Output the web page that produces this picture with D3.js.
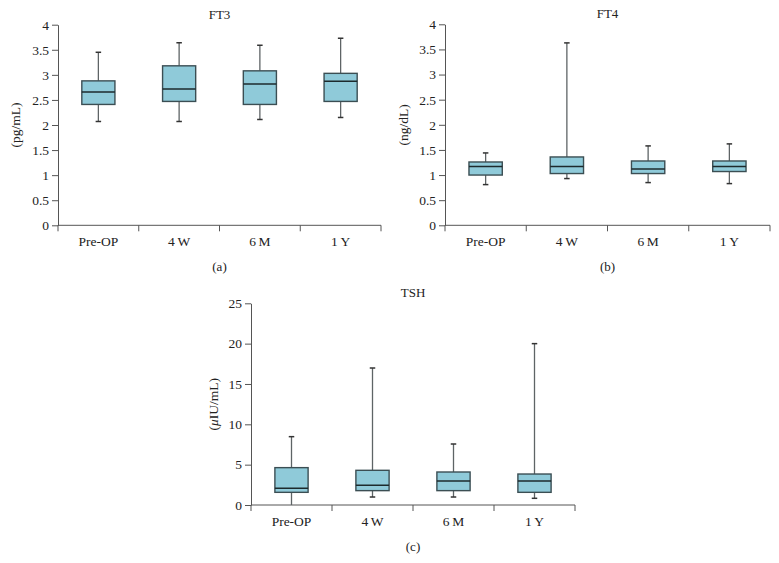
<!DOCTYPE html>
<html>
<head>
<meta charset="utf-8">
<script src="https://cdn.jsdelivr.net/npm/d3@7"></script>
<style>
  html, body { margin: 0; padding: 0; background: #fff; }
  svg { display: block; }
  text { font-family: "Liberation Serif", "DejaVu Serif", serif; fill: #222; }
</style>
</head>
<body>
<svg id="chart" width="779" height="563"></svg>
<script>
// ---- Data ----
const categories = ["Pre-OP", "4\u2009W", "6\u2009M", "1\u2009Y"];

const ft3Min    = [2.07, 2.07, 2.11, 2.15];
const ft3Q1     = [2.41, 2.47, 2.41, 2.47];
const ft3Median = [2.66, 2.72, 2.82, 2.87];
const ft3Q3     = [2.88, 3.18, 3.08, 3.03];
const ft3Max    = [3.45, 3.64, 3.59, 3.73];

const ft4Min    = [0.81, 0.93, 0.85, 0.83];
const ft4Q1     = [1.00, 1.03, 1.03, 1.07];
const ft4Median = [1.17, 1.17, 1.12, 1.17];
const ft4Q3     = [1.26, 1.36, 1.28, 1.28];
const ft4Max    = [1.44, 3.63, 1.58, 1.62];

const tshMin    = [0.0, 0.99, 0.99, 0.83];
const tshQ1     = [1.57, 1.78, 1.78, 1.57];
const tshMedian = [2.07, 2.44, 2.98, 2.98];
const tshQ3     = [4.63, 4.30, 4.09, 3.84];
const tshMax    = [8.47, 16.98, 7.56, 20.0];

const ft3Ticks = [0, 0.5, 1, 1.5, 2, 2.5, 3, 3.5, 4];
const ft4Ticks = [0, 0.5, 1, 1.5, 2, 2.5, 3, 3.5, 4];
const tshTicks = [0, 5, 10, 15, 20, 25];

// ---- Drawing ----
const svg = d3.select("#chart");
const BOX_FILL = "#8fcad9";
const BOX_STROKE = "#3b4e53";
const WHISKER = "#5e6466";
const AXIS = "#555";

function panel(cfg) {
  const x = d3.scaleBand().domain(categories).range([cfg.x0, cfg.x1]);
  const y = d3.scaleLinear().domain([0, cfg.yMax]).range([cfg.yBottom, cfg.yTop]);
  const g = svg.append("g");

  // y axis
  const ya = g.append("g")
    .attr("transform", `translate(${cfg.x0},0)`)
    .call(d3.axisLeft(y).tickValues(cfg.ticks).tickSize(6).tickSizeOuter(0).tickPadding(3)
      .tickFormat(d => String(d)));
  ya.select(".domain").attr("stroke", AXIS);
  ya.selectAll(".tick line").attr("stroke", AXIS);
  ya.selectAll(".tick text").attr("font-size", 13.5).attr("font-family", "Liberation Serif").attr("fill", "#222");

  // x axis: line + ticks at band boundaries
  const bounds = categories.map(c => x(c)).concat([x(categories[categories.length - 1]) + x.bandwidth()]);
  g.append("line").attr("x1", cfg.x0).attr("x2", cfg.x1)
    .attr("y1", cfg.yBottom).attr("y2", cfg.yBottom).attr("stroke", AXIS);
  g.selectAll("line.xt").data(bounds).join("line").attr("class", "xt")
    .attr("x1", d => d).attr("x2", d => d)
    .attr("y1", cfg.yBottom).attr("y2", cfg.yBottom + 6).attr("stroke", AXIS);
  g.selectAll("text.xl").data(categories).join("text").attr("class", "xl")
    .attr("x", d => x(d) + x.bandwidth() / 2)
    .attr("y", cfg.yBottom + 21)
    .attr("text-anchor", "middle").attr("font-size", 13.5)
    .text(d => d);

  // boxes
  const bw = x.bandwidth() * 0.41;
  const capW = 5.5;
  categories.forEach((c, i) => {
    const cx = x(c) + x.bandwidth() / 2;
    // whiskers
    g.append("line").attr("x1", cx).attr("x2", cx)
      .attr("y1", y(cfg.max[i])).attr("y2", y(cfg.q3[i]))
      .attr("stroke", WHISKER).attr("stroke-width", 1.3);
    g.append("line").attr("x1", cx).attr("x2", cx)
      .attr("y1", y(cfg.q1[i])).attr("y2", y(cfg.min[i]))
      .attr("stroke", WHISKER).attr("stroke-width", 1.3);
    [cfg.max[i], cfg.min[i]].forEach(v => {
      if (v > 0) g.append("line").attr("x1", cx - capW / 2).attr("x2", cx + capW / 2)
        .attr("y1", y(v)).attr("y2", y(v)).attr("stroke", "#333").attr("stroke-width", 1.5);
    });
    // box
    g.append("rect").attr("x", cx - bw / 2).attr("width", bw)
      .attr("y", y(cfg.q3[i])).attr("height", y(cfg.q1[i]) - y(cfg.q3[i]))
      .attr("fill", BOX_FILL).attr("stroke", BOX_STROKE).attr("stroke-width", 1.4);
    // median
    g.append("line").attr("x1", cx - bw / 2).attr("x2", cx + bw / 2)
      .attr("y1", y(cfg.median[i])).attr("y2", y(cfg.median[i]))
      .attr("stroke", "#1d2a2d").attr("stroke-width", 1.5);
  });

  // title
  g.append("text").attr("x", (cfg.x0 + cfg.x1) / 2).attr("y", cfg.yTop - 6)
    .attr("text-anchor", "middle").attr("font-size", 13).text(cfg.title);

  // y label
  const yl = g.append("text")
    .attr("transform", `translate(${cfg.ylabX},${(cfg.yTop + cfg.yBottom) / 2}) rotate(-90)`)
    .attr("text-anchor", "middle").attr("dominant-baseline", "central").attr("font-size", 13.5);
  cfg.ylabel.forEach(p => yl.append("tspan").attr("font-style", p.italic ? "italic" : null).text(p.t));

  // panel letter
  g.append("text").attr("x", (cfg.x0 + cfg.x1) / 2).attr("y", cfg.yBottom + 46)
    .attr("text-anchor", "middle").attr("font-size", 13).text(cfg.letter);
}

panel({ x0: 58, x1: 381, yTop: 24.7, yBottom: 225.3, yMax: 4, ticks: ft3Ticks,
  min: ft3Min, q1: ft3Q1, median: ft3Median, q3: ft3Q3, max: ft3Max,
  title: "FT3", ylabel: [{t: "(pg/mL)"}], ylabX: 15, letter: "(a)" });

panel({ x0: 445, x1: 770, yTop: 24.3, yBottom: 225.3, yMax: 4, ticks: ft4Ticks,
  min: ft4Min, q1: ft4Q1, median: ft4Median, q3: ft4Q3, max: ft4Max,
  title: "FT4", ylabel: [{t: "(ng/dL)"}], ylabX: 403, letter: "(b)" });

panel({ x0: 251, x1: 575, yTop: 303.3, yBottom: 505, yMax: 25, ticks: tshTicks,
  min: tshMin, q1: tshQ1, median: tshMedian, q3: tshQ3, max: tshMax,
  title: "TSH", ylabel: [{t: "("}, {t: "\u03BC", italic: true}, {t: "IU/mL)"}], ylabX: 212.5, letter: "(c)" });
</script>
</body>
</html>
